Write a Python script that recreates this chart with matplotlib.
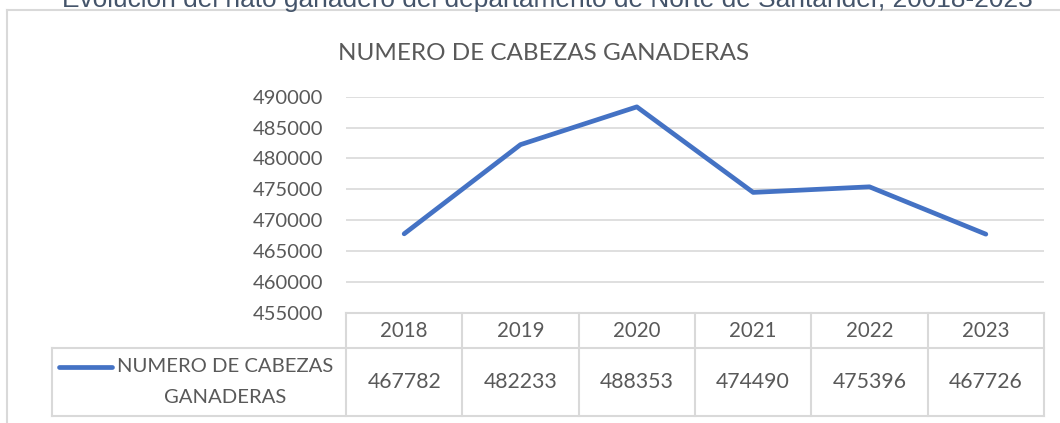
import matplotlib
matplotlib.use("Agg")
import matplotlib.pyplot as plt
import matplotlib.transforms as mtransforms
import numpy as np

# datos del hato ganadero
years = ["2018", "2019", "2020", "2021", "2022", "2023"]
cabezas = [467782, 482233, 488353, 474490, 475396, 467726]
serie = "NUMERO DE CABEZAS GANADERAS"
y_ticks = [455000, 460000, 465000, 470000, 475000, 480000, 485000, 490000]

W, H = 1060, 423
line_col = "#4472C4"
grid_col = "#D9D9D9"
txt_col = "#595959"
font = ["Lato", "DejaVu Sans"]

fig = plt.figure(figsize=(W / 100, H / 100), dpi=100)

# overlay en pixeles para marco, titulo y tabla
ov = fig.add_axes([0, 0, 1, 1])
ov.set_xlim(0, W)
ov.set_ylim(H, 0)
ov.axis("off")

# area del grafico (pixeles medidos)
px_l, px_r, px_t, px_b = 346, 1044, 96.7, 312.7
ax = fig.add_axes([px_l / W, 1 - px_b / H, (px_r - px_l) / W, (px_b - px_t) / H])
x = np.arange(len(years))
ax.plot(x, cabezas, color=line_col, lw=3.4, solid_capstyle="round", solid_joinstyle="round", zorder=3)
ax.set_xlim(-0.5, len(years) - 0.5)
ax.set_ylim(y_ticks[0], y_ticks[-1])
ax.set_yticks(y_ticks)
ax.set_yticklabels([str(v) for v in y_ticks], fontsize=14.5, color=txt_col, family=font)
ax.tick_params(axis="y", length=0, pad=16.5)
ax.set_xticks([])
ax.grid(axis="y", color=grid_col, lw=1.2)
ax.set_axisbelow(True)
for s in ax.spines.values():
    s.set_visible(False)
ax.patch.set_alpha(0)

# marco exterior del grafico (recortado)
ov.plot([7, 7], [10, H + 5], color=grid_col, lw=1.5, clip_on=False)
ov.plot([7, W + 5], [10, 10], color=grid_col, lw=1.5, clip_on=False)

# titulo del documento, cortado arriba
ov.text(547, 7, "Evolución del hato ganadero del departamento de Norte de Santander, 20018-2023",
        ha="center", va="baseline", fontsize=18.9, color="#44546A", family=["Liberation Sans", "DejaVu Sans"])

# titulo del grafico
ov.text(544, 53, serie, ha="center", va="center", fontsize=17.5, color=txt_col, family=font)

# tabla de datos: x en coordenadas de datos del eje, y en pixeles
tr = mtransforms.blended_transform_factory(ax.transData, ov.transData)
row_top, row_mid, row_bot = px_b, 348.5, 416
edges = np.arange(len(years) + 1) - 0.5
for e in edges:
    ov.plot([e, e], [row_top, row_bot], color=grid_col, lw=1.5, transform=tr, clip_on=False)
ov.plot([edges[0], edges[-1]], [row_top, row_top], color=grid_col, lw=1.5, transform=tr, clip_on=False)
legend_l = 52
ov.plot([legend_l, legend_l], [row_mid, row_bot], color=grid_col, lw=1.5)
ov.plot([legend_l, px_r], [row_mid, row_mid], color=grid_col, lw=1.5)
ov.plot([legend_l, px_r], [row_bot, row_bot], color=grid_col, lw=1.5)

for i, (yr, v) in enumerate(zip(years, cabezas)):
    ov.text(i, (row_top + row_mid) / 2, yr, transform=tr, ha="center", va="center",
            fontsize=14.8, color=txt_col, family=font)
    ov.text(i, (row_mid + row_bot) / 2, str(v), transform=tr, ha="center", va="center",
            fontsize=15.3, color=txt_col, family=font)

# clave de leyenda
ov.plot([59, 112], [367, 367], color=line_col, lw=3.4, solid_capstyle="round")
ov.text(225, 382, "NUMERO DE CABEZAS\nGANADERAS", ha="center", va="center",
        fontsize=14.6, color=txt_col, family=font, linespacing=2.05)

fig.savefig("out.png", dpi=100)
